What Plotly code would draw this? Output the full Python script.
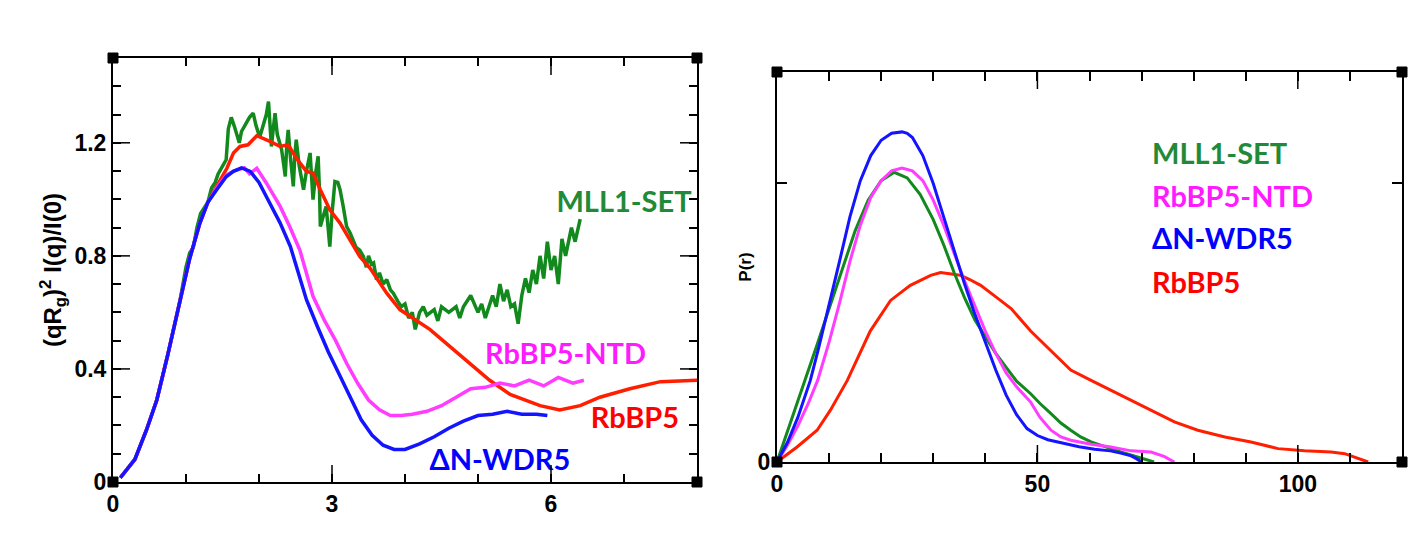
import plotly.graph_objects as go

# ---------------- Panel B : dimensionless Kratky ----------------
kr_q_mll1 = [0.10, 0.30, 0.46, 0.60, 0.75, 0.92,
             1.00, 1.05, 1.10, 1.15, 1.20, 1.25, 1.30, 1.35, 1.40, 1.44, 1.50, 1.55, 1.58, 1.62, 1.66, 1.69,
             1.73, 1.76, 1.80, 1.83, 1.87, 1.92, 1.96, 2.01, 2.05, 2.10, 2.13, 2.15, 2.17, 2.20, 2.22, 2.25,
             2.28, 2.31, 2.34, 2.36, 2.38, 2.40, 2.43, 2.47, 2.49, 2.51, 2.55, 2.58, 2.61, 2.65, 2.70, 2.72,
             2.74, 2.78, 2.81, 2.83, 2.84, 2.88, 2.92, 2.95, 2.97, 3.00, 3.04, 3.08, 3.11, 3.15, 3.20, 3.25,
             3.29, 3.33, 3.38, 3.43, 3.47, 3.50, 3.54, 3.57, 3.61, 3.65, 3.70, 3.75, 3.80, 3.84, 3.90, 3.95,
             4.00, 4.05, 4.10, 4.14, 4.20, 4.25, 4.30, 4.40, 4.45, 4.50, 4.60, 4.70, 4.75, 4.80, 4.90, 5.00,
             5.05, 5.10, 5.20, 5.25, 5.30, 5.35, 5.40, 5.45, 5.50, 5.55, 5.60, 5.65, 5.70, 5.75, 5.80, 5.85,
             5.90, 5.95, 6.00, 6.05, 6.10, 6.15, 6.20, 6.28, 6.33, 6.40]
kr_v_mll1 = [0.015, 0.08, 0.185, 0.29, 0.45, 0.645,
             0.76, 0.81, 0.83, 0.90, 0.95, 0.97, 0.99, 1.04, 1.06, 1.09, 1.12, 1.14, 1.25, 1.29, 1.26, 1.235,
             1.20, 1.24, 1.26, 1.27, 1.29, 1.305, 1.26, 1.22, 1.26, 1.30, 1.346, 1.25, 1.187, 1.26, 1.305, 1.23,
             1.20, 1.175, 1.12, 1.081, 1.19, 1.246, 1.15, 1.046, 1.15, 1.211, 1.12, 1.08, 1.034, 1.10, 1.164, 1.08,
             0.999, 1.10, 1.152, 1.02, 0.904, 0.94, 0.975, 0.89, 0.833, 0.95, 1.063, 1.06, 1.034, 0.98, 0.904, 0.88,
             0.857, 0.83, 0.82, 0.798, 0.76, 0.80, 0.77, 0.775, 0.716, 0.74, 0.70, 0.716, 0.68, 0.668, 0.64, 0.62,
             0.63, 0.58, 0.60, 0.54, 0.60, 0.62, 0.59, 0.61, 0.57, 0.62, 0.60, 0.62, 0.58, 0.62, 0.66, 0.60,
             0.63, 0.58, 0.66, 0.62, 0.70, 0.64, 0.68, 0.62, 0.63, 0.56, 0.66, 0.72, 0.67, 0.75, 0.70, 0.80,
             0.72, 0.85, 0.75, 0.80, 0.70, 0.86, 0.80, 0.90, 0.85, 0.93]

kr_q_ntd = [0.10, 0.30, 0.46, 0.60, 0.75, 0.92, 1.05, 1.19, 1.30, 1.42, 1.55, 1.65, 1.75, 1.80, 1.87, 1.93,
            1.97, 2.10, 2.29, 2.42, 2.56, 2.74, 2.90, 3.05, 3.20, 3.35, 3.50, 3.65, 3.80, 3.95, 4.10, 4.30,
            4.50, 4.70, 4.90, 5.10, 5.30, 5.50, 5.70, 5.90, 6.10, 6.30, 6.45]
kr_v_ntd = [0.015, 0.08, 0.185, 0.29, 0.45, 0.645, 0.79, 0.916, 0.99, 1.04, 1.085, 1.10, 1.11, 1.112, 1.09, 1.10,
            1.11, 1.058, 0.975, 0.904, 0.82, 0.657, 0.57, 0.50, 0.42, 0.35, 0.29, 0.255, 0.235, 0.235, 0.24, 0.25,
            0.27, 0.30, 0.33, 0.335, 0.35, 0.34, 0.36, 0.34, 0.37, 0.35, 0.36]

kr_q_wdr5 = [0.10, 0.30, 0.46, 0.60, 0.75, 0.92, 1.05, 1.19, 1.30, 1.42, 1.55, 1.65, 1.76, 1.88, 2.00, 2.10,
             2.29, 2.43, 2.56, 2.65, 2.80, 2.95, 3.10, 3.25, 3.40, 3.55, 3.70, 3.85, 4.00, 4.20, 4.40, 4.60,
             4.80, 5.00, 5.20, 5.40, 5.60, 5.80, 5.95]
kr_v_wdr5 = [0.015, 0.08, 0.185, 0.29, 0.45, 0.645, 0.79, 0.916, 0.99, 1.034, 1.08, 1.099, 1.111, 1.099, 1.06, 1.01,
             0.916, 0.833, 0.727, 0.645, 0.55, 0.46, 0.38, 0.30, 0.22, 0.165, 0.13, 0.115, 0.115, 0.135, 0.16, 0.19,
             0.215, 0.235, 0.24, 0.25, 0.24, 0.24, 0.235]

kr_q_rbbp5 = [0.10, 0.30, 0.46, 0.60, 0.75, 0.92, 1.05, 1.19, 1.30, 1.42, 1.56, 1.65, 1.74, 1.85, 1.97, 2.15,
              2.29, 2.40, 2.51, 2.65, 2.74, 2.84, 2.97, 3.11, 3.25, 3.38, 3.52, 3.75, 3.93, 4.34, 4.75, 5.16,
              5.44, 5.85, 6.12, 6.40, 6.67, 7.08, 7.50, 8.00]
kr_v_rbbp5 = [0.015, 0.08, 0.185, 0.29, 0.45, 0.645, 0.79, 0.916, 0.99, 1.046, 1.11, 1.164, 1.187, 1.193, 1.225, 1.205,
              1.187, 1.193, 1.146, 1.099, 1.093, 1.034, 0.963, 0.916, 0.857, 0.798, 0.757, 0.668, 0.61, 0.54, 0.45, 0.36,
              0.31, 0.27, 0.255, 0.27, 0.30, 0.33, 0.355, 0.36]

# ---------------- Panel C : P(r) ----------------
pr_r_mll1 = [0, 2.5, 5.4, 7.5, 10, 12.5, 15, 17.5, 20, 22.5, 25, 27.5, 30, 32, 34, 36, 38, 40, 42, 44, 46,
             48.7, 50.5, 52.6, 54.5, 56.4, 58.3, 60.3, 62, 64.1, 66, 68, 70, 72.4]
pr_p_mll1 = [0, 0.135, 0.293, 0.41, 0.55, 0.69, 0.83, 0.94, 1.01, 1.04, 1.02, 0.96, 0.87, 0.78, 0.68, 0.59, 0.51,
             0.45, 0.39, 0.34, 0.29, 0.245, 0.21, 0.174, 0.14, 0.114, 0.09, 0.072, 0.06, 0.048, 0.036, 0.024, 0.012, 0]

pr_r_ntd = [0, 2, 4, 6, 7.8, 10, 12, 14, 16, 18, 20, 22, 24, 26, 28, 30, 32, 34, 36, 38, 40, 42, 44, 46,
            48.7, 50.5, 52.6, 54.5, 56.4, 60.3, 64.1, 68, 71.8, 74.3, 76.3]
pr_p_ntd = [0, 0.06, 0.13, 0.21, 0.293, 0.43, 0.57, 0.72, 0.85, 0.95, 1.01, 1.045, 1.055, 1.045, 1.01, 0.94, 0.85,
            0.75, 0.65, 0.56, 0.47, 0.39, 0.32, 0.27, 0.215, 0.16, 0.114, 0.09, 0.078, 0.064, 0.054, 0.04, 0.036,
            0.02, 0]

pr_r_wdr5 = [0, 2, 4, 6.4, 8, 10, 12, 14, 16, 18, 20, 22, 24, 25, 26, 28, 30, 32, 34, 36, 38, 40, 42, 44, 46,
             48, 50, 52, 55, 58, 61, 64, 66, 68, 69, 70]
pr_p_wdr5 = [0, 0.07, 0.16, 0.293, 0.41, 0.56, 0.72, 0.88, 1.01, 1.10, 1.155, 1.18, 1.185, 1.18, 1.165, 1.10, 1.0,
             0.88, 0.76, 0.64, 0.53, 0.43, 0.33, 0.24, 0.17, 0.12, 0.095, 0.08, 0.067, 0.055, 0.046, 0.04, 0.032,
             0.022, 0.012, 0]

pr_r_rbbp5 = [0, 3.85, 7.7, 10.25, 13.5, 17.9, 21.8, 25.6, 29.5, 31.4, 33.5, 35.3, 37, 39.1, 42.9, 45, 48.7,
              52.6, 56.4, 60.3, 66, 73.1, 76.3, 80.8, 86, 91, 96.2, 101.3, 106.4, 109, 112.8, 113.5]
pr_p_rbbp5 = [0, 0.054, 0.114, 0.186, 0.293, 0.47, 0.58, 0.634, 0.67, 0.68, 0.675, 0.67, 0.655, 0.634, 0.58, 0.55,
              0.47, 0.40, 0.33, 0.293, 0.24, 0.174, 0.144, 0.114, 0.09, 0.072, 0.048, 0.04, 0.036, 0.03, 0.006, 0]

# tick values / labels
kr_x_ticks = [0, 1, 2, 3, 4, 5, 6, 7]
kr_x_text = ["0", "", "", "3", "", "", "6", ""]
kr_x_major = [3, 6]
kr_y_ticks = [0, 0.1, 0.2, 0.3, 0.4, 0.5, 0.6, 0.7, 0.8, 0.9, 1.0, 1.1, 1.2, 1.3, 1.4]
kr_y_text = ["0", "", "", "", "0.4", "", "", "", "0.8", "", "", "", "1.2", "", ""]
kr_y_major = [0.4, 0.8, 1.2]
pr_x_ticks = [0, 10, 20, 30, 40, 50, 60, 70, 80, 90, 100, 110]
pr_x_text = ["0", "", "", "", "", "50", "", "", "", "", "100", ""]
pr_x_major = [50, 100]
pr_y_ticks = [0, 1]
pr_y_text = ["0", ""]

names = ["MLL1-SET", "RbBP5-NTD", "ΔN-WDR5", "RbBP5"]
line_colors = ["#12891c", "#ff3cff", "#1414ff", "#ff1e00"]
text_colors = ["#1f8a38", "#ff1aff", "#0000ff", "#ff0000"]

# text placements (in each panel's own data units)
kr_label_x = [7.0, 6.2, 5.3, 7.15]
kr_label_y = [0.98, 0.444, 0.068, 0.217]
pr_label_x = [72.0, 72.0, 72.0, 72.0]
pr_label_y = [1.094, 0.942, 0.792, 0.634]

fig = go.Figure()

kr_series = [(kr_q_mll1, kr_v_mll1), (kr_q_ntd, kr_v_ntd), (kr_q_wdr5, kr_v_wdr5), (kr_q_rbbp5, kr_v_rbbp5)]
for i in [0, 3, 1, 2]:
    xs, ys = kr_series[i]
    fig.add_trace(go.Scatter(x=xs, y=ys, mode="lines", name=names[i], showlegend=False,
                             line=dict(color=line_colors[i], width=3.5), xaxis="x", yaxis="y"))

pr_series = [(pr_r_mll1, pr_p_mll1), (pr_r_ntd, pr_p_ntd), (pr_r_wdr5, pr_p_wdr5), (pr_r_rbbp5, pr_p_rbbp5)]
for i in [3, 0, 1, 2]:
    xs, ys = pr_series[i]
    fig.add_trace(go.Scatter(x=xs, y=ys, mode="lines", name=names[i], showlegend=False,
                             line=dict(color=line_colors[i], width=3), xaxis="x2", yaxis="y2"))

# curve labels as text traces
fig.add_trace(go.Scatter(x=kr_label_x, y=kr_label_y, mode="text", text=names, textposition="middle center",
                         textfont=dict(family="Lato", size=29, color=text_colors, weight="bold"),
                         showlegend=False, hoverinfo="skip", cliponaxis=False, xaxis="x", yaxis="y"))
fig.add_trace(go.Scatter(x=pr_label_x, y=pr_label_y, mode="text", text=names, textposition="middle right",
                         textfont=dict(family="Lato", size=29, color=text_colors, weight="bold"),
                         showlegend=False, hoverinfo="skip", cliponaxis=False, xaxis="x2", yaxis="y2"))

# panel letters and x-axis titles as text traces placed outside the plot boxes
fig.add_trace(go.Scatter(x=[-1.18, 2.97], y=[1.596, -0.2], mode="text", text=["B", "qR<sub>g</sub>"],
                         textposition="middle center",
                         textfont=dict(family="Liberation Sans, Arial", size=[44, 27], color="black", weight="bold"),
                         showlegend=False, hoverinfo="skip", cliponaxis=False, xaxis="x", yaxis="y"))
fig.add_trace(go.Scatter(x=[-7.1, 60.1], y=[1.533, -0.154], mode="text", text=["C", "r (A)"],
                         textposition="middle center",
                         textfont=dict(family="Liberation Sans, Arial", size=[44, 19], color="black", weight="bold"),
                         showlegend=False, hoverinfo="skip", cliponaxis=False, xaxis="x2", yaxis="y2"))

W, H = 1417, 556
tickfont = dict(family="Liberation Sans, Arial", size=23, color="black", weight="bold")

box_b = (113, 697, 58, 482)
box_c = (777, 1402, 72, 462)


def dom_x(box):
    return [box[0] / W, box[1] / W]


def dom_y(box):
    return [1 - box[3] / H, 1 - box[2] / H]


def axis(**kw):
    d = dict(showgrid=False, zeroline=False, showline=True, linecolor="black", linewidth=2,
             mirror="allticks", ticks="inside", tickcolor="black", tickwidth=1.5, ticklen=8,
             tickfont=tickfont, tickmode="array", automargin=False)
    d.update(kw)
    return d


fig.update_layout(
    width=W, height=H, margin=dict(l=0, r=0, t=0, b=0),
    paper_bgcolor="white", plot_bgcolor="white",
    xaxis=axis(domain=dom_x(box_b), range=[0, 8], tickvals=kr_x_ticks, ticktext=kr_x_text, anchor="y"),
    yaxis=axis(domain=dom_y(box_b), range=[0, 1.5], tickvals=kr_y_ticks, ticktext=kr_y_text, anchor="x",
               title=dict(text="(qR<sub>g</sub>)<sup>2</sup> I(q)/I(0)", standoff=6,
                          font=dict(family="Liberation Sans, Arial", size=24, color="black", weight="bold"))),
    xaxis2=axis(domain=dom_x(box_c), range=[0, 120], tickvals=pr_x_ticks, ticktext=pr_x_text,
                anchor="y2", ticklen=9),
    yaxis2=axis(domain=dom_y(box_c), range=[0, 1.4], tickvals=pr_y_ticks, ticktext=pr_y_text,
                ticklen=10, anchor="x2",
                title=dict(text="P(r)", standoff=2,
                           font=dict(family="Liberation Sans, Arial", size=17, color="black", weight="bold"))),
)

shapes = []
tick_line = dict(color="black", width=1.5)
for ax_x, ax_y, majors in [("x", "y", kr_x_major), ("x2", "y2", pr_x_major)]:
    for v in majors:
        shapes.append(dict(type="line", xref=ax_x, yref=ax_y + " domain", ysizemode="pixel",
                           yanchor=0, x0=v, x1=v, y0=0, y1=17, line=tick_line))
        shapes.append(dict(type="line", xref=ax_x, yref=ax_y + " domain", ysizemode="pixel",
                           yanchor=1, x0=v, x1=v, y0=-17, y1=0, line=tick_line))
for v in kr_y_major:
    shapes.append(dict(type="line", yref="y", xref="x domain", xsizemode="pixel",
                       xanchor=0, y0=v, y1=v, x0=0, x1=17, line=tick_line))
    shapes.append(dict(type="line", yref="y", xref="x domain", xsizemode="pixel",
                       xanchor=1, y0=v, y1=v, x0=-17, x1=0, line=tick_line))
for box in (box_b, box_c):
    for cx in (box[0], box[1]):
        for cy in (box[2], box[3]):
            shapes.append(dict(type="rect", xref="paper", yref="paper",
                               x0=(cx - 5) / W, x1=(cx + 5) / W, y0=1 - (cy + 5) / H, y1=1 - (cy - 5) / H,
                               fillcolor="black", line=dict(color="black", width=1)))
fig.update_layout(shapes=shapes)

fig.write_html("out.html")
